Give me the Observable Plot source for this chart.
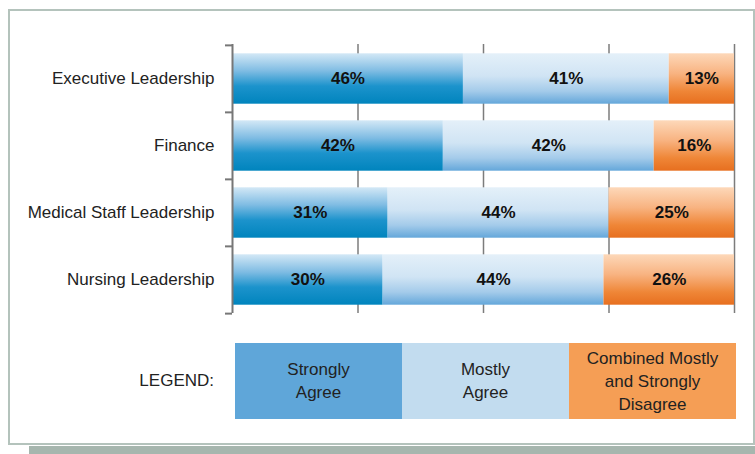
<!DOCTYPE html>
<html><head><meta charset="utf-8">
<script src="https://cdn.jsdelivr.net/npm/d3@7"></script>
<script src="https://cdn.jsdelivr.net/npm/@observablehq/plot@0.6"></script>
<style>
body{margin:0;background:#fff;}
#wrap{position:relative;width:755px;height:454px;overflow:hidden;font-family:"Liberation Sans",Arial,sans-serif;color:#222;}
#frame{position:absolute;left:8px;top:9px;width:747px;height:436px;border:2px solid #b4c3bc;box-sizing:border-box;background:#fff;}
#shadow{position:absolute;left:29px;top:446px;width:726px;height:8px;background:#a6b6ae;}
#chart{position:absolute;left:0;top:0;}
.lg{position:absolute;top:343px;height:76px;width:167px;display:flex;align-items:center;justify-content:center;text-align:center;font-size:17px;line-height:23px;color:#222;}
#lgtitle{position:absolute;left:0;width:214px;top:369px;text-align:right;font-size:17px;line-height:23px;color:#222;}
</style></head>
<body>
<div id="wrap">
  <div id="frame"></div>
  <div id="shadow"></div>
  <div id="chart"></div>
  <div id="lgtitle">LEGEND:</div>
  <div id="legend"></div>
</div>
<script>
const categories = ["Executive Leadership", "Finance", "Medical Staff Leadership", "Nursing Leadership"];
const series = ["Strongly Agree", "Mostly Agree", "Combined Mostly and Strongly Disagree"];
const legendLabels = [["Strongly", "Agree"], ["Mostly", "Agree"], ["Combined Mostly", "and Strongly", "Disagree"]];
const stronglyAgree = [46, 42, 31, 30];
const mostlyAgree = [41, 42, 44, 44];
const disagree = [13, 16, 25, 26];
const gridTicks = [25, 50, 75, 100];

const values = [stronglyAgree, mostlyAgree, disagree];
const data = [];
series.forEach((s, si) => categories.forEach((c, ci) => data.push({category: c, series: s, value: values[si][ci]})));

const gradIds = ["gStrong", "gMostly", "gDis"];
const legendColors = ["#5fa6d9", "#c2dcef", "#f59e55"];

const W = 755, H = 454, mT = 44, mB = 141;
const step = (H - mT - mB) / categories.length;

const svg = Plot.plot({
  width: W, height: H,
  marginLeft: 232, marginRight: 21, marginTop: mT, marginBottom: mB,
  style: {background: "transparent", fontFamily: "'Liberation Sans', Arial, sans-serif", fontSize: "17px", color: "#222"},
  x: {domain: [0, 100], axis: null},
  y: {domain: categories, padding: 0, label: null},
  color: {domain: series, range: gradIds.map(id => `url(#${id})`)},
  marks: [
    Plot.gridX(gridTicks, {stroke: "#7c7c7c", strokeOpacity: 1, strokeWidth: 1.5}),
    Plot.barX(data, Plot.stackX({x: "value", y: "category", z: "series", fill: "series", insetTop: 8.3, insetBottom: 8.3})),
    Plot.text(data, Plot.stackX({x: "value", y: "category", z: "series", text: d => d.value + "%", fontWeight: "bold", fontSize: 17, fill: "#111"})),
    Plot.ruleX([0], {stroke: "#777", strokeWidth: 2}),
    Plot.axisY({tickSize: 0, tickPadding: 18, fontSize: 17, fill: "#222", label: null}),
    Plot.axisY({tickSize: 7, dy: -step / 2, stroke: "#777", strokeWidth: 2, tickFormat: () => "", label: null}),
    Plot.axisY([categories[categories.length - 1]], {tickSize: 7, dy: step / 2, stroke: "#777", strokeWidth: 2, tickFormat: () => "", label: null})
  ]
});

const defs = d3.select(svg).insert("defs", ":first-child");
const stops = {
  gStrong: [[0, "#d3e8f6"], [0.35, "#7fbce3"], [0.65, "#1c93cc"], [1, "#0084bd"]],
  gMostly: [[0, "#e4f0f9"], [0.45, "#d0e4f4"], [0.75, "#a4cbea"], [1, "#64a7da"]],
  gDis: [[0, "#fdd8b9"], [0.4, "#f8b381"], [0.75, "#ef8637"], [1, "#e76f1f"]]
};
for (const id of gradIds) {
  const g = defs.append("linearGradient").attr("id", id).attr("x1", 0).attr("y1", 0).attr("x2", 0).attr("y2", 1);
  for (const [o, c] of stops[id]) g.append("stop").attr("offset", o).attr("stop-color", c);
}
document.getElementById("chart").appendChild(svg);

const legend = document.getElementById("legend");
series.forEach((s, i) => {
  const d = document.createElement("div");
  d.className = "lg";
  d.style.left = (235 + i * 167) + "px";
  d.style.background = legendColors[i];
  d.innerHTML = legendLabels[i].join("<br>");
  legend.appendChild(d);
});
</script>
</body></html>
